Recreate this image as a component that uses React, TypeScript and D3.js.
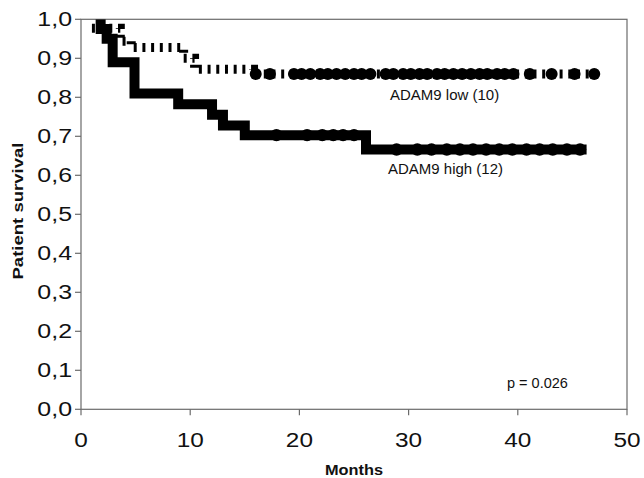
import React from 'react';
import * as d3 from 'd3';

const width = 644;
const height = 478;

// Kaplan-Meier steps (months, survival)
const highTimes = [1.8, 1.8, 2.35, 2.9, 4.9, 8.9, 12.0, 13.0, 15.0, 26.1, 46.3];
const highSurvival = [1.0, 0.975, 0.95, 0.89, 0.81, 0.782, 0.755, 0.728, 0.703, 0.666, 0.666];
const lowTimes = [1.0, 3.6, 4.6, 9.4, 10.4, 15.8, 47.6];
const lowSurvival = [0.977, 0.944, 0.928, 0.9, 0.872, 0.86, 0.86];

// censored patients (months)
const highCensored = [17.9, 20.7, 22.1, 23.1, 24.0, 25.0, 28.9, 30.8, 32.1, 33.5, 34.7, 35.9,
  37.1, 38.3, 39.5, 40.8, 42.0, 43.2, 44.5, 45.7];
const lowCensored = [16.0, 17.3, 19.5, 20.2, 21.0, 21.9, 22.6, 23.4, 24.2, 25.0, 25.7, 26.5,
  27.9, 28.6, 29.5, 30.2, 31.0, 31.7, 32.6, 33.3, 34.1, 34.9, 35.7, 36.5, 37.2, 38.1, 38.8,
  39.6, 41.1, 43.1, 45.2, 47.0];

const xTicks = [0, 10, 20, 30, 40, 50];
const yTicks = [0, 0.1, 0.2, 0.3, 0.4, 0.5, 0.6, 0.7, 0.8, 0.9, 1.0];

const x = d3.scaleLinear().domain([0, 50]).range([81, 627]);
const y = d3.scaleLinear().domain([0, 1]).range([409.3, 19.3]);

const stepLine = d3
  .line<[number, number]>()
  .x(d => x(d[0]))
  .y(d => y(d[1]))
  .curve(d3.curveStepAfter);

const survivalAt = (times: number[], surv: number[], t: number) => {
  const i = d3.bisectRight(times, t) - 1;
  return surv[Math.max(0, Math.min(i, surv.length - 1))];
};

const highPath = stepLine(highTimes.map((t, i) => [t, highSurvival[i]] as [number, number]));
const lowPath = stepLine(lowTimes.map((t, i) => [t, lowSurvival[i]] as [number, number]));

const axisColor = '#6b6b6b';
const numFont = '"Liberation Sans", Arial, sans-serif';

export default function App() {
  const [x0, x1] = x.range();
  const [y0, y1] = y.range();
  return (
    <svg
      width={width}
      height={height}
      style={{ position: 'absolute', left: 0, top: 0, background: '#fff' }}
    >
      <defs>
        <clipPath id="plot">
          <rect x={x0} y={y1} width={x1 - x0} height={y0 - y1} />
        </clipPath>
      </defs>

      {/* box */}
      <rect x={x0} y={y1} width={x1 - x0} height={y0 - y1} fill="none" stroke={axisColor} strokeWidth={1.2} />

      {/* y axis */}
      {yTicks.map(t => (
        <g key={'y' + t}>
          <line x1={x0 - 6} x2={x0} y1={y(t)} y2={y(t)} stroke={axisColor} strokeWidth={1.2} />
          <g transform={`translate(72, ${y(t) + 7}) scale(1.28, 1)`}>
            <text textAnchor="end" fontFamily={numFont} fontSize={19.5} fill="#111">
              {t.toFixed(1).replace('.', ',')}
            </text>
          </g>
        </g>
      ))}

      {/* x axis */}
      {xTicks.map(t => (
        <g key={'x' + t}>
          <line x1={x(t)} x2={x(t)} y1={y0} y2={y0 + 6} stroke={axisColor} strokeWidth={1.2} />
          <g transform={`translate(${x(t)}, 447) scale(1.25, 1)`}>
            <text textAnchor="middle" fontFamily={numFont} fontSize={19.5} fill="#111">
              {t}
            </text>
          </g>
        </g>
      ))}

      <g clipPath="url(#plot)">
        {/* ADAM9 low: dashed thick line */}
        <path
          d={lowPath || ''}
          fill="none"
          stroke="#000"
          strokeWidth={9}
          strokeDasharray="3 5.7"
        />
        {lowCensored.map((t, i) => (
          <circle key={'lc' + i} cx={x(t)} cy={y(survivalAt(lowTimes, lowSurvival, t))} r={6} fill="#000" />
        ))}

        {/* ADAM9 high: solid thick line */}
        <path d={highPath || ''} fill="none" stroke="#000" strokeWidth={10} strokeLinejoin="miter" />
        {highCensored.map((t, i) => (
          <circle key={'hc' + i} cx={x(t)} cy={y(survivalAt(highTimes, highSurvival, t))} r={6.2} fill="#000" />
        ))}
      </g>

      <text x={390} y={100} fontFamily={numFont} fontSize={15} fill="#111">ADAM9 low (10)</text>
      <text x={388} y={174} fontFamily={numFont} fontSize={15} fill="#111">ADAM9 high (12)</text>
      <text x={507} y={388} fontFamily={numFont} fontSize={14.5} fill="#111">p = 0.026</text>

      <text
        x={354}
        y={475}
        textAnchor="middle"
        fontFamily={numFont}
        fontWeight="bold"
        fontSize={15}
        textLength={58}
        lengthAdjust="spacingAndGlyphs"
        fill="#111"
      >
        Months
      </text>
      <text
        transform="translate(23, 211) rotate(-90)"
        textAnchor="middle"
        fontFamily={numFont}
        fontWeight="bold"
        fontSize={15}
        textLength={137}
        lengthAdjust="spacingAndGlyphs"
        fill="#111"
      >
        Patient survival
      </text>
    </svg>
  );
}
